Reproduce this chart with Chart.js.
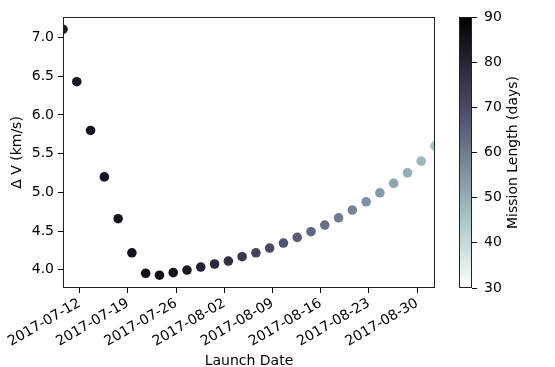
<!DOCTYPE html>
<html>
<head>
<meta charset="utf-8">
<script src="https://cdn.jsdelivr.net/npm/chart.js@4.4.1/dist/chart.umd.min.js"></script>
<style>
    html, body { margin: 0; padding: 0; background: #fff; }
    #wrap { position: relative; width: 555px; height: 367px; }
    #wrap canvas { position: absolute; left: 0; top: 0; }
</style>
</head>
<body>
<div id="wrap">
    <canvas id="miGrafica" width="555" height="367"></canvas>
    <canvas id="barraColor" width="555" height="367"></canvas>
</div>
<script>
// =============================
// DATOS
// =============================
const launchDates = [
    "2017-07-09T14:00Z", "2017-07-11T14:00Z", "2017-07-13T14:00Z", "2017-07-15T14:00Z",
    "2017-07-17T14:00Z", "2017-07-19T14:00Z", "2017-07-21T14:00Z", "2017-07-23T14:00Z",
    "2017-07-25T14:00Z", "2017-07-27T14:00Z", "2017-07-29T14:00Z", "2017-07-31T14:00Z",
    "2017-08-02T14:00Z", "2017-08-04T14:00Z", "2017-08-06T14:00Z", "2017-08-08T14:00Z",
    "2017-08-10T14:00Z", "2017-08-12T14:00Z", "2017-08-14T14:00Z", "2017-08-16T14:00Z",
    "2017-08-18T14:00Z", "2017-08-20T14:00Z", "2017-08-22T14:00Z", "2017-08-24T14:00Z",
    "2017-08-26T14:00Z", "2017-08-28T14:00Z", "2017-08-30T14:00Z", "2017-09-01T14:00Z"
];

const deltaV = [
    7.107, 6.43, 5.80, 5.20, 4.66, 4.22, 3.955, 3.93,
    3.963, 3.997, 4.036, 4.075, 4.113, 4.169, 4.220, 4.281,
    4.346, 4.419, 4.492, 4.578, 4.672, 4.772, 4.879, 4.995,
    5.116, 5.253, 5.404, 5.601
];

const missionLength = [
    83, 83, 84, 84, 84, 85, 86, 86,
    85, 83, 81, 79, 77, 75, 72, 70,
    68, 66, 64, 62, 60, 58, 56, 54,
    52, 50, 48, 46
];

const dateTicks = [
    "2017-07-12", "2017-07-19", "2017-07-26", "2017-08-02",
    "2017-08-09", "2017-08-16", "2017-08-23", "2017-08-30"
];

const deltaVTicks = [4.0, 4.5, 5.0, 5.5, 6.0, 6.5, 7.0];
const lengthTicks = [30, 40, 50, 60, 70, 80, 90];

const FUENTE = "'DejaVu Sans', sans-serif";
const TAM = 14;

// =============================
// COLORMAP bone_r
// =============================
function interp(x, pts){
    for(let i = 1; i < pts.length; i++){
        if(x <= pts[i][0]){
            let a = pts[i - 1], b = pts[i];
            return a[1] + (x - a[0]) * (b[1] - a[1]) / (b[0] - a[0]);
        }
    }
    return pts[pts.length - 1][1];
}

function boneR(t){
    let x = 1 - Math.min(1, Math.max(0, t));
    let r = interp(x, [[0, 0], [0.746032, 0.652778], [1, 1]]);
    let g = interp(x, [[0, 0], [0.365079, 0.319444], [0.746032, 0.777778], [1, 1]]);
    let b = interp(x, [[0, 0], [0.365079, 0.444444], [1, 1]]);
    return "rgb(" + Math.round(r * 255) + "," + Math.round(g * 255) + "," + Math.round(b * 255) + ")";
}

function colorLongitud(v){
    return boneR((v - 30) / 60);
}

// marco de los ejes (como los "spines")
const marco = {
    id: "marco",
    afterDatasetsDraw(chart){
        let a = chart.chartArea;
        let ctx = chart.ctx;
        ctx.save();
        ctx.strokeStyle = "#222";
        ctx.lineWidth = 1;
        ctx.strokeRect(a.left + 0.5, a.top + 0.5, a.right - a.left - 1, a.bottom - a.top - 1);
        ctx.restore();
    }
};

// =============================
// GRÁFICA PRINCIPAL
// =============================
let puntos = launchDates.map((d, i) => ({ x: Date.parse(d), y: deltaV[i] }));

new Chart(document.getElementById("miGrafica").getContext("2d"), {
    type: "scatter",
    data: {
        datasets: [{
            data: puntos,
            backgroundColor: missionLength.map(colorLongitud),
            borderWidth: 0,
            pointRadius: 4.8,
            clip: 0
        }]
    },
    options: {
        responsive: false,
        animation: false,
        events: [],
        layout: { padding: { left: 0, right: 120, top: 17, bottom: 0 } },
        plugins: {
            legend: { display: false },
            tooltip: { enabled: false }
        },
        scales: {
            x: {
                type: "linear",
                min: Date.parse(launchDates[0]),
                max: Date.parse(launchDates[launchDates.length - 1]),
                afterBuildTicks(scale){
                    scale.ticks = dateTicks.map(d => ({ value: Date.parse(d + "T00:00Z") }));
                },
                afterFit(scale){ scale.height = 79; },
                ticks: {
                    callback: v => new Date(v).toISOString().slice(0, 10),
                    minRotation: 30,
                    maxRotation: 30,
                    autoSkip: false,
                    padding: 2,
                    color: "#000",
                    font: { family: FUENTE, size: TAM }
                },
                grid: { drawOnChartArea: false, drawTicks: true, tickLength: 5, color: "#000" },
                border: { display: false },
                title: {
                    display: true,
                    text: "Launch Date",
                    color: "#000",
                    padding: { top: 0, bottom: -3 },
                    font: { family: FUENTE, size: TAM }
                }
            },
            y: {
                min: 3.765,
                max: 7.266,
                afterBuildTicks(scale){
                    scale.ticks = deltaVTicks.map(v => ({ value: v }));
                },
                afterFit(scale){ scale.width = 63; },
                ticks: {
                    callback: v => v.toFixed(1),
                    padding: 4,
                    color: "#000",
                    font: { family: FUENTE, size: TAM }
                },
                grid: { drawOnChartArea: false, drawTicks: true, tickLength: 5, color: "#000" },
                border: { display: false },
                title: {
                    display: true,
                    text: "Δ V (km/s)",
                    color: "#000",
                    padding: { top: 9, bottom: 0 },
                    font: { family: FUENTE, size: TAM }
                }
            }
        }
    },
    plugins: [marco]
});

// =============================
// BARRA DE COLOR
// =============================
const etiquetaBarra = {
    id: "etiquetaBarra",
    afterDraw(chart){
        let a = chart.chartArea;
        let ctx = chart.ctx;
        ctx.save();
        ctx.translate(513, (a.top + a.bottom) / 2);
        ctx.rotate(-Math.PI / 2);
        ctx.fillStyle = "#000";
        ctx.font = TAM + "px " + FUENTE;
        ctx.textAlign = "center";
        ctx.textBaseline = "middle";
        ctx.fillText("Mission Length (days)", 0, 0);
        ctx.restore();
    }
};

new Chart(document.getElementById("barraColor").getContext("2d"), {
    type: "bar",
    data: {
        labels: [""],
        datasets: [{
            data: [[lengthTicks[0], lengthTicks[lengthTicks.length - 1]]],
            backgroundColor: function(c){
                let area = c.chart.chartArea;
                if(!area){
                    return "#888";
                }
                let g = c.chart.ctx.createLinearGradient(0, area.bottom, 0, area.top);
                for(let i = 0; i <= 24; i++){
                    g.addColorStop(i / 24, boneR(i / 24));
                }
                return g;
            },
            borderWidth: 0,
            borderSkipped: false,
            barPercentage: 1,
            categoryPercentage: 1
        }]
    },
    options: {
        responsive: false,
        animation: false,
        events: [],
        layout: { padding: { left: 459, right: 0, top: 17, bottom: 79 } },
        plugins: {
            legend: { display: false },
            tooltip: { enabled: false }
        },
        scales: {
            x: { display: false },
            y: {
                position: "right",
                min: 30,
                max: 90,
                afterBuildTicks(scale){
                    scale.ticks = lengthTicks.map(v => ({ value: v }));
                },
                afterFit(scale){ scale.width = 83; },
                ticks: {
                    padding: 7,
                    color: "#000",
                    font: { family: FUENTE, size: TAM }
                },
                grid: { drawOnChartArea: false, drawTicks: true, tickLength: 5, color: "#000" },
                border: { display: false }
            }
        }
    },
    plugins: [marco, etiquetaBarra]
});
</script>
</body>
</html>
